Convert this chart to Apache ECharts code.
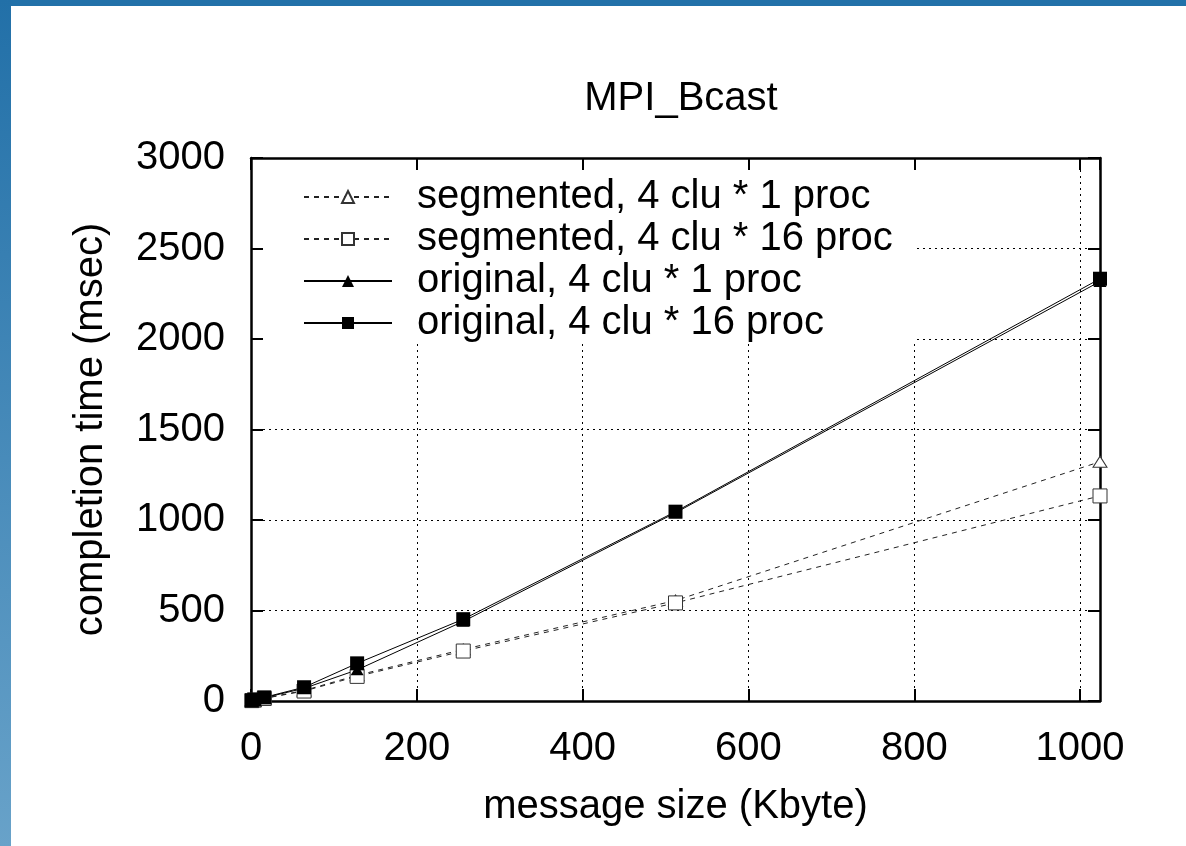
<!DOCTYPE html>
<html>
<head>
<meta charset="utf-8">
<script src="https://cdn.jsdelivr.net/npm/echarts@6/dist/echarts.min.js"></script>
<style>
  html, body { margin: 0; padding: 0; background: #fff; }
  #echarts_box { width: 1186px; height: 846px; }
</style>
</head>
<body>
<div id="echarts_box"></div>
<script>
// 数据
var msgSize = [1, 4, 16, 64, 128, 256, 512, 1024];
var segOneProc = [2, 5, 15, 58, 142, 285, 555, 1322];
var segSixteenProc = [2, 5, 14, 55, 136, 276, 542, 1133];
var origOneProc = [2, 6, 18, 70, 172, 440, 1040, 2318];
var origSixteenProc = [3, 8, 20, 76, 208, 452, 1046, 2333];
var seriesNames = [
    'segmented, 4 clu * 1 proc',
    'segmented, 4 clu * 16 proc',
    'original, 4 clu * 1 proc',
    'original, 4 clu * 16 proc'
];

var FONT = '"Liberation Sans", Arial, sans-serif';

function pairs(ys) {
    return msgSize.map(function (x, i) { return [x, ys[i]]; });
}
function plain(v) { return String(v); }

var mycharts = echarts.init(document.getElementById('echarts_box'));

var axisLineStyle = { show: true, onZero: false, lineStyle: { color: '#000', width: 2.5 } };
var tickStyle = { show: true, inside: true, length: 12, lineStyle: { color: '#000', width: 2 } };
var gridLine = { show: true, lineStyle: { color: '#000', width: 1, type: [2, 4] } };

var optionObj = {
    backgroundColor: '#fff',
    animation: false,
    title: {
        text: 'MPI_Bcast',
        left: 676,
        textAlign: 'center',
        top: 74,
        textStyle: { fontSize: 40, fontWeight: 'normal', color: '#000', fontFamily: FONT }
    },
    legend: {
        orient: 'vertical',
        left: 298,
        top: 171,
        itemWidth: 88,
        itemHeight: 15,
        itemGap: 0,
        textStyle: { fontSize: 40, color: '#000', fontFamily: FONT, lineHeight: 42, padding: [0, 0, 0, 20] },
        data: seriesNames
    },
    grid: { left: 251, right: 86, top: 158, bottom: 145 },
    xAxis: [
        {
            type: 'value', min: 0, max: 1024, interval: 200,
            name: 'message size (Kbyte)', nameLocation: 'middle', nameGap: 86,
            nameTextStyle: { fontSize: 40, color: '#000', fontFamily: FONT },
            axisLine: axisLineStyle, axisTick: tickStyle, splitLine: gridLine,
            axisLabel: { fontSize: 40, color: '#000', fontFamily: FONT, margin: 28, showMaxLabel: false, formatter: plain }
        },
        {
            type: 'value', min: 0, max: 1024, interval: 200, position: 'top',
            axisLine: axisLineStyle, axisTick: tickStyle, splitLine: { show: false },
            axisLabel: { show: false }
        }
    ],
    yAxis: [
        {
            type: 'value', min: 0, max: 3000, interval: 500,
            name: 'completion time (msec)', nameLocation: 'middle', nameGap: 140,
            nameTextStyle: { fontSize: 40, color: '#000', fontFamily: FONT },
            axisLine: axisLineStyle, axisTick: tickStyle, splitLine: gridLine,
            axisLabel: { fontSize: 40, color: '#000', fontFamily: FONT, margin: 26, formatter: plain }
        },
        {
            type: 'value', min: 0, max: 3000, interval: 500, position: 'right',
            axisLine: axisLineStyle, axisTick: tickStyle, splitLine: { show: false },
            axisLabel: { show: false }
        }
    ],
    graphic: [
        // 图例背后遮住网格线
        { type: 'rect', z: 1, shape: { x: 263, y: 170, width: 654, height: 170 }, style: { fill: '#fff' } },
        // 幻灯片蓝色边框
        { type: 'rect', z: 10, shape: { x: 0, y: 0, width: 1186, height: 6 }, style: { fill: '#2271a9' } },
        {
            type: 'rect', z: 10, shape: { x: 0, y: 0, width: 11, height: 846 },
            style: {
                fill: new echarts.graphic.LinearGradient(0, 0, 0, 1, [
                    { offset: 0, color: '#2270a8' },
                    { offset: 1, color: '#68a2c9' }
                ])
            }
        }
    ],
    series: [
        {
            name: seriesNames[0], type: 'line', data: pairs(segOneProc),
            symbol: 'triangle', symbolSize: [14, 11],
            lineStyle: { color: '#222', width: 1, type: [5, 5] },
            itemStyle: { color: '#fff', borderColor: '#333', borderWidth: 1 }
        },
        {
            name: seriesNames[1], type: 'line', data: pairs(segSixteenProc),
            symbol: 'rect', symbolSize: 14,
            lineStyle: { color: '#222', width: 1, type: [5, 5] },
            itemStyle: { color: '#fff', borderColor: '#333', borderWidth: 1 }
        },
        {
            name: seriesNames[2], type: 'line', data: pairs(origOneProc),
            symbol: 'triangle', symbolSize: [13, 11],
            lineStyle: { color: '#000', width: 1 },
            itemStyle: { color: '#000' }
        },
        {
            name: seriesNames[3], type: 'line', data: pairs(origSixteenProc),
            symbol: 'rect', symbolSize: 14,
            lineStyle: { color: '#000', width: 1 },
            itemStyle: { color: '#000' }
        }
    ]
};

mycharts.setOption(optionObj);
window.onresize = function () {
    mycharts.resize();
};
</script>
</body>
</html>
